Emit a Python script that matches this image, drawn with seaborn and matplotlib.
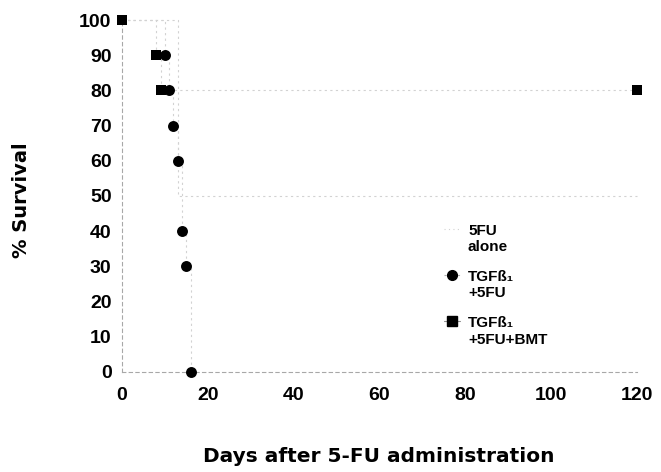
import matplotlib
matplotlib.use("Agg")
import matplotlib.pyplot as plt
import seaborn as sns
import pandas as pd
from matplotlib.lines import Line2D
from matplotlib.legend_handler import HandlerLine2D

# ---- data ----
days_5fu = [0, 13, 120]
surv_5fu = [100, 50, 50]

days_tgf = [10, 11, 12, 13, 14, 15, 16]
surv_tgf = [90, 80, 70, 60, 40, 30, 0]

days_bmt = [0, 8, 9, 120]
surv_bmt = [100, 90, 80, 80]

xticks = [0, 20, 40, 60, 80, 100, 120]
yticks = [0, 10, 20, 30, 40, 50, 60, 70, 80, 90, 100]

labels = ["5FU\nalone", "TGFß₁\n+5FU", "TGFß₁\n+5FU+BMT"]

sns.set_theme(style="white")
plt.rcParams["font.family"] = ["Liberation Sans", "DejaVu Sans"]
plt.rcParams["font.weight"] = "bold"
for k in ("text.color", "axes.labelcolor", "xtick.color", "ytick.color"):
    plt.rcParams[k] = "black"

fig = plt.figure(figsize=(6.61, 4.72), dpi=100)
ax = fig.add_axes([113.4 / 661, 1 - 379 / 472, (645.6 - 113.4) / 661, (379 - 13) / 472])

line_col = "#d2d2d2"
df5 = pd.DataFrame({"day": days_5fu, "surv": surv_5fu})
dft = pd.DataFrame({"day": [0] + days_tgf, "surv": [100] + surv_tgf})
dfb = pd.DataFrame({"day": days_bmt, "surv": surv_bmt})

for d in (df5, dft, dfb):
    sns.lineplot(data=d, x="day", y="surv", ax=ax, estimator=None, sort=False,
                 drawstyle="steps-post", color=line_col, lw=0.8,
                 linestyle=(0, (2, 3)), legend=False)

sns.scatterplot(x=days_tgf, y=surv_tgf, ax=ax, marker="o", s=62, color="black",
                edgecolor="black", linewidth=0, zorder=4, legend=False)
sns.scatterplot(x=days_bmt, y=surv_bmt, ax=ax, marker="s", s=55, color="black",
                edgecolor="black", linewidth=0, zorder=5, legend=False)

ax.set_xlim(-2, 122)
ax.set_ylim(-2, 102)
ax.set_xticks(xticks)
ax.set_yticks(yticks)
ax.tick_params(axis="x", length=0, pad=11, labelsize=14, colors="black")
ax.tick_params(axis="y", length=0, pad=7.5, labelsize=14, colors="black")
for lab in ax.get_xticklabels() + ax.get_yticklabels():
    lab.set_fontweight("bold")

for s in ("top", "right"):
    ax.spines[s].set_visible(False)
ax.spines["left"].set_position(("data", 0))
ax.spines["bottom"].set_position(("data", 0))
ax.spines["left"].set_bounds(0, 100)
ax.spines["bottom"].set_bounds(0, 120)
for s in ("left", "bottom"):
    ax.spines[s].set_linestyle((0, (3, 3)))
    ax.spines[s].set_color("#a8a8a8")
    ax.spines[s].set_linewidth(0.8)
ax.grid(False)

ax.set_xlabel("Days after 5-FU administration", fontsize=14.5, fontweight="bold",
              family=["DejaVu Sans"], color="black")
ax.xaxis.set_label_coords((379 - 113.4) / 532.2, (379 - 447) / 366)
ax.set_ylabel("% Survival", fontsize=14, fontweight="bold", family=["DejaVu Sans"],
              color="black")
ax.yaxis.set_label_coords((31 - 113.4) / 532.2, (379 - 200) / 366)


class FirstLineHandler(HandlerLine2D):
    """Place the legend handle beside the first line of a two-line label."""
    shift = 7.5  # points

    def create_artists(self, legend, orig_handle, xdescent, ydescent, width,
                       height, fontsize, trans):
        arts = super().create_artists(legend, orig_handle, xdescent, ydescent,
                                      width, height, fontsize, trans)
        for a in arts:
            a.set_ydata([y + self.shift for y in a.get_ydata()])
        return arts


handles = [
    Line2D([], [], color=line_col, lw=0.8, linestyle=(0, (1, 3))),
    Line2D([], [], color="#b0b0b0", lw=0.8, linestyle=(0, (2, 2)), marker="o",
           markersize=7, markerfacecolor="black", markeredgecolor="black"),
    Line2D([], [], color="#909090", lw=0.8, linestyle="-", marker="s",
           markersize=6.5, markerfacecolor="black", markeredgecolor="black"),
]
leg = fig.legend(handles, labels, loc="upper left",
                 bbox_to_anchor=(444 / 661, 1 - 224 / 472), frameon=False,
                 prop={"family": ["Liberation Sans", "DejaVu Sans"], "weight": "bold", "size": 11},
                 handlelength=1.05, handletextpad=0.52, labelspacing=1.05,
                 borderpad=0, borderaxespad=0,
                 handler_map={Line2D: FirstLineHandler()})
for t in leg.get_texts():
    t.set_color("black")

fig.savefig("out.png", dpi=100)
